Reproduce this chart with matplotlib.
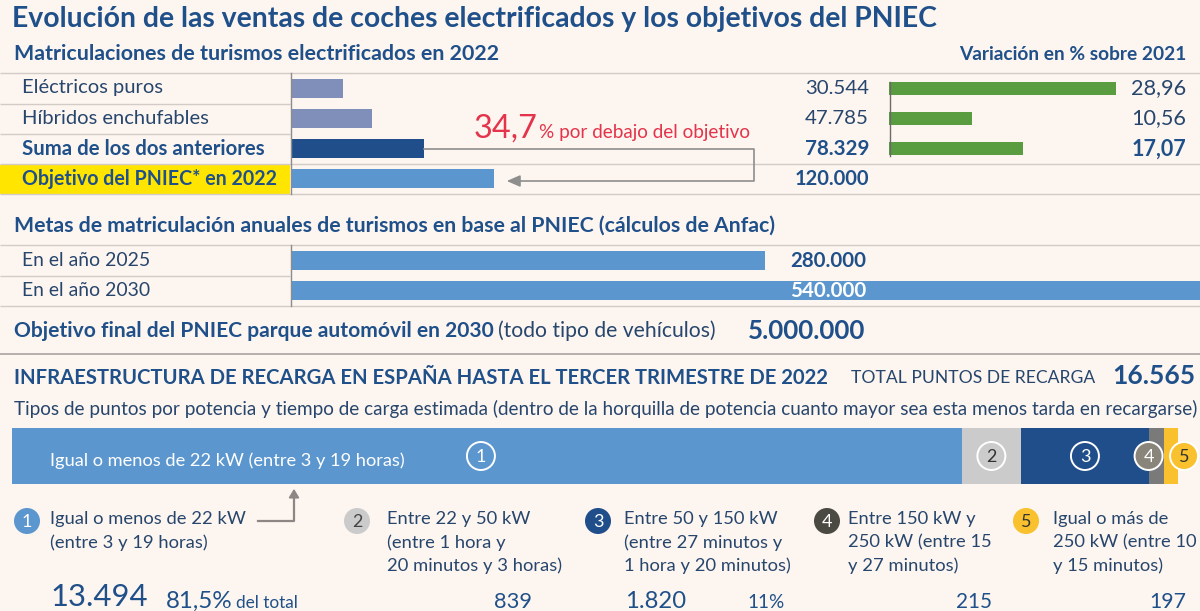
import matplotlib
matplotlib.use("Agg")
import matplotlib.pyplot as plt
from matplotlib.patches import Circle, Rectangle
import numpy as np

# ---------------- data ----------------
cat_2022 = ["Eléctricos puros", "Híbridos enchufables",
            "Suma de los dos anteriores", "Objetivo del PNIEC* en 2022"]
matric_2022 = [30544, 47785, 78329, 120000]
var_2021 = [28.96, 10.56, 17.07]
below_pct = "34,7"
metas_cat = ["En el año 2025", "En el año 2030"]
metas_vals = [280000, 540000]
parque_2030 = 5000000
recarga_vals = [13494, 839, 1820, 215, 197]
recarga_total = 16565
recarga_ids = ["1", "2", "3", "4", "5"]
recarga_desc = [
    ["Igual o menos de 22 kW", "(entre 3 y 19 horas)"],
    ["Entre 22 y 50 kW", "(entre 1 hora y", "20 minutos y 3 horas)"],
    ["Entre 50 y 150 kW", "(entre 27 minutos y", "1 hora y 20 minutos)"],
    ["Entre 150 kW y", "250 kW (entre 15", "y 27 minutos)"],
    ["Igual o más de", "250 kW (entre 10", "y 15 minutos)"],
]


def es(v):
    return f"{v:,}".replace(",", ".")


def es_dec(v):
    return f"{v:.2f}".replace(".", ",")


# ---------------- style ----------------
FONT = "Lato"
BG = "#fdf5ef"
TITLE = "#1f5089"
TXT = "#27466d"
LINE = "#d3cbc6"
C_LIGHT = "#7f8fb9"
C_DARK = "#1f4e8a"
C_MID = "#5b96cf"
GREEN = "#5a9d40"
RED = "#e3344b"
SEG_COLORS = [C_MID, "#cbcbcb", C_DARK, "#7a7a7a", "#f8c12d"]
LEG_COLORS = [C_MID, "#cbcbcb", C_DARK, "#4a4a43", "#f8c12d"]
LEG_TXT = ["white", "#444444", "white", "white", "#333333"]

W, H = 1200, 611
fig = plt.figure(figsize=(W / 100, H / 100), dpi=100)
fig.patch.set_facecolor(BG)
ax0 = fig.add_axes([0, 0, 1, 1])
ax0.set_xlim(0, W)
ax0.set_ylim(H, 0)
ax0.axis("off")
ax0.set_facecolor("none")
ax0.set_zorder(10)
renderer = fig.canvas.get_renderer()


def txt(x, y, s, size=12, w=None, ha="left", va="center", weight="normal",
        color=TXT, zorder=5):
    t = ax0.text(x, y, s, fontsize=size, ha=ha, va=va, fontweight=weight,
                 color=color, family=FONT, zorder=zorder)
    if w is not None:
        bb = t.get_window_extent(renderer)
        t.set_fontsize(size * w / bb.width)
    return t


def right_of(t, gap=0):
    bb = t.get_window_extent(renderer)
    return ax0.transData.inverted().transform((bb.x1, bb.y0))[0] + gap


def px_axes(x0, y0, x1, y1):
    a = fig.add_axes([x0 / W, (H - y1) / H, (x1 - x0) / W, (y1 - y0) / H])
    a.axis("off")
    a.set_facecolor("none")
    return a


def hline(y, x0=0, x1=W, color=LINE, lw=1.0):
    ax0.plot([x0, x1], [y, y], color=color, lw=lw, zorder=1,
             solid_capstyle="butt")


# ---------------- titles ----------------
txt(12, 19, "Evolución de las ventas de coches electrificados y los objetivos del PNIEC",
    size=20, w=925, weight="bold", color=TITLE)
txt(14, 54, "Matriculaciones de turismos electrificados en 2022", size=14, w=486,
    weight="bold", color=TITLE)
txt(1186, 54, "Variación en % sobre 2021", size=14, w=228, ha="right",
    weight="bold", color=TITLE)

# ---------------- section 1 ----------------
hline(73)
hline(104, 0, 290)
hline(134, 0, 290)
hline(164)
hline(194)
ax0.add_patch(Rectangle((0, 164.5), 290, 29, facecolor="#ffe500",
                        edgecolor="none", zorder=0.5))
ax0.plot([290.5, 290.5], [73, 194], color="#8c8c8c", lw=1, zorder=2)

PXU = 0.0016917  # px per unit for the registration bars
ax1 = px_axes(291, 73, 1200, 194)
ax1.set_xlim(0, 909 / PXU)
ax1.set_ylim(3.5, -0.5)
ax1.barh(range(4), matric_2022, height=0.63,
         color=[C_LIGHT, C_LIGHT, C_DARK, C_MID])

row_y = [88, 118, 149, 179]
for i, (c, v) in enumerate(zip(cat_2022, matric_2022)):
    bold = i >= 2
    txt(22, row_y[i], c, size=13, w=[141, 186, 243, 254][i],
        weight="bold" if bold else "normal", color=TITLE if bold else TXT)
    txt(869, row_y[i], es(v), size=13, w=[64, 64, 64, 75][i], ha="right",
        weight="bold" if bold else "normal", color=TITLE if bold else TXT)


def bar_end_px(ax, value, idx):
    d = ax.transData.transform((value, idx))
    return ax0.transData.inverted().transform(d)


# connector from "Suma" bar to "Objetivo" bar
xs, ys = bar_end_px(ax1, matric_2022[2], 2)
xo, yo = bar_end_px(ax1, matric_2022[3], 3)
ax0.plot([xs, 754, 754, xo + 18], [ys, ys, 181, 181], color="#8e8e8e",
         lw=1.2, zorder=3)
ax0.annotate("", xy=(xo + 10, 181), xytext=(xo + 24, 181),
             arrowprops=dict(arrowstyle="-|>,head_width=0.35,head_length=0.8",
                             color="#8e8e8e", lw=1.2), zorder=3)
t = txt(474, 138, below_pct, size=18, w=64, va="baseline", color=RED)
txt(right_of(t, 1), 138, "% por debajo del objetivo", size=12, w=210,
    va="baseline", color=RED)

# green variation bars
GPX = 7.84
ax3 = px_axes(889, 73, 1200, 164)
ax3.set_xlim(0, 311 / GPX)
ax3.set_ylim(2.5, -0.5)
ax3.barh(range(3), var_2021, height=0.43, color=GREEN)
ax0.plot([889.5, 889.5], [82, 156], color="#6a6a6a", lw=1, zorder=0.5)
for i, v in enumerate(var_2021):
    txt(1186, row_y[i], es_dec(v), size=13, w=55, ha="right",
        weight="bold" if i == 2 else "normal", color=TITLE if i == 2 else TXT)

# ---------------- section 2 ----------------
txt(14, 226, "Metas de matriculación anuales de turismos en base al PNIEC (cálculos de Anfac)",
    size=14, w=766, weight="bold", color=TITLE)
hline(245)
hline(276, 0, 290)
hline(306)
ax0.plot([290.5, 290.5], [245, 306], color="#8c8c8c", lw=1, zorder=2)
ax2 = px_axes(291, 245, 1200, 306)
ax2.set_xlim(0, 909 / PXU)
ax2.set_ylim(1.5, -0.5)
ax2.barh(range(2), metas_vals, height=0.63, color=C_MID)
meta_y = [261, 291]
for i, (c, v) in enumerate(zip(metas_cat, metas_vals)):
    txt(22, meta_y[i], c, size=13, w=128, color=TXT)
    txt(790, meta_y[i], es(v), size=13, w=76, weight="bold",
        color=TITLE if i == 0 else "white", zorder=6)

t = txt(14, 331, "Objetivo final del PNIEC parque automóvil en 2030", size=14,
        w=483, weight="bold", color=TITLE)
txt(right_of(t, 4), 331, "(todo tipo de vehículos)", size=14, w=219, color=TXT)
txt(748, 331, es(parque_2030), size=17, w=118, weight="bold", color=TITLE)
hline(354, color="#aaa3a0", lw=1.2)

# ---------------- section 3 ----------------
txt(14, 378, "INFRAESTRUCTURA DE RECARGA EN ESPAÑA HASTA EL TERCER TRIMESTRE DE 2022",
    size=14, w=818, weight="bold", color=TITLE)
txt(851, 378, "TOTAL PUNTOS DE RECARGA", size=13, w=242, color=TXT)
txt(1195, 376, es(recarga_total), size=19, w=83, ha="right", weight="bold",
    color=TITLE)
txt(14, 409, "Tipos de puntos por potencia y tiempo de carga estimada (dentro de la "
    "horquilla de potencia cuanto mayor sea esta menos tarda en recargarse)",
    size=13, w=1174, color=TXT)

ax4 = px_axes(12, 428, 1178, 484)
ax4.set_xlim(0, recarga_total)
ax4.set_ylim(-0.5, 0.5)
lefts = np.concatenate([[0], np.cumsum(recarga_vals)[:-1]])
ax4.barh(0, recarga_vals, left=lefts, height=1, color=SEG_COLORS)

txt(50, 461, recarga_desc[0][0] + " " + recarga_desc[0][1], size=13, w=354,
    color="white", zorder=6)

# numbered circles inside the bar
offsets = [-6, 0, 0, -8, 13]
for i, (l, v) in enumerate(zip(lefts, recarga_vals)):
    cx, cy = bar_end_px(ax4, l + v / 2, 0)
    cx += offsets[i]
    if i in (0, 1, 2):
        fc, tc = "none", ("#333333" if i == 1 else "white")
    elif i == 3:
        fc, tc = "#8a857a", "white"
    else:
        fc, tc = "#f8c12d", "#333333"
    ax0.add_patch(Circle((cx, cy), 14, facecolor=fc, edgecolor="white",
                         lw=1.4, zorder=7))
    txt(cx, cy + 1, recarga_ids[i], size=13, ha="center", color=tc, zorder=8)

# arrow from legend item 1 up to the bar
ax0.plot([258, 294, 294], [521, 521, 495], color="#8e8585", lw=1.6, zorder=3)
ax0.annotate("", xy=(294, 486), xytext=(294, 498),
             arrowprops=dict(arrowstyle="-|>,head_width=0.3,head_length=0.5",
                             color="#8e8585", lw=1.4), zorder=3)

# legend
leg_cx = [27, 357, 598, 827, 1026]
leg_tx = [50, 387, 624, 848, 1053]
for i in range(5):
    ax0.add_patch(Circle((leg_cx[i], 521), 13, facecolor=LEG_COLORS[i],
                         edgecolor="none", zorder=4))
    txt(leg_cx[i], 522, recarga_ids[i], size=13, ha="center",
        color=LEG_TXT[i], zorder=5)
    for j, line in enumerate(recarga_desc[i]):
        txt(leg_tx[i], 519 + 23.5 * j, line, size=13.2, color=TXT)

# bottom numbers
pct1 = recarga_vals[0] / recarga_total * 100
pct3 = recarga_vals[2] / recarga_total * 100
BY = 608
txt(50, 606, es(recarga_vals[0]), size=28, w=97, va="baseline", color=TITLE)
t = txt(166, BY, f"{pct1:.1f}".replace(".", ",") + "%", size=18, w=67,
        va="baseline", color=TITLE)
txt(right_of(t, 3), BY, "del total", size=14, w=62, va="baseline", color=TITLE)
txt(513, BY, es(recarga_vals[1]), size=18, w=38, ha="center", va="baseline",
    color=TITLE)
txt(625, BY, es(recarga_vals[2]), size=18, w=61, va="baseline", color=TITLE)
txt(747, BY, f"{pct3:.0f}%", size=18, w=37, va="baseline", color=TITLE)
txt(974, BY, es(recarga_vals[3]), size=18, w=36, ha="center", va="baseline",
    color=TITLE)
txt(1186, BY, es(recarga_vals[4]), size=18, w=37, ha="right", va="baseline",
    color=TITLE)

fig.savefig("out.png", dpi=100, facecolor=BG)
